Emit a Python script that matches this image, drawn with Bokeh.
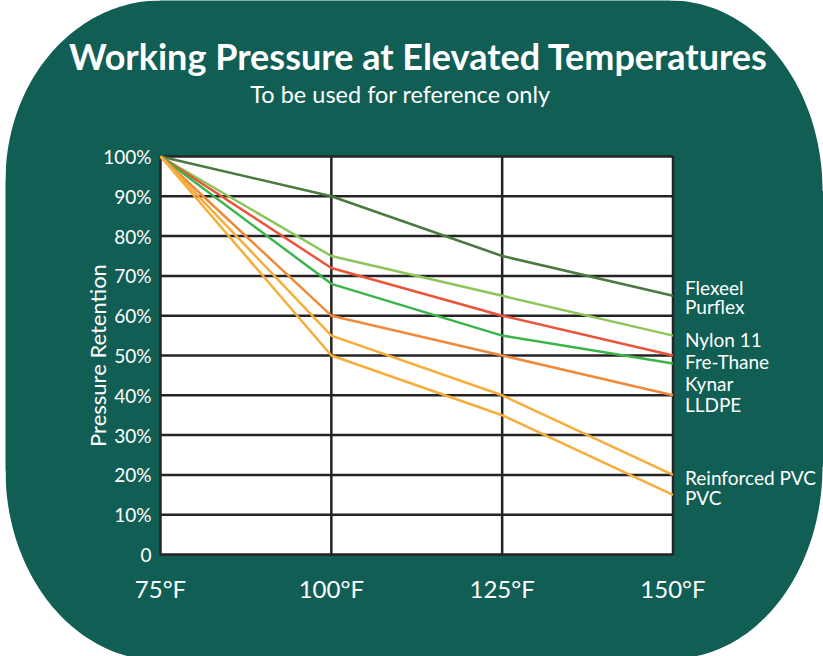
import numpy as np
from bokeh.plotting import figure
from bokeh.models import Range1d, FixedTicker, Label, LabelSet, ColumnDataSource
from bokeh.embed import file_html
from bokeh.resources import INLINE
from bokeh.core.properties import value

# ---------------- data ----------------
temps = [75, 100, 125, 150]
temp_labels = ["75°F", "100°F", "125°F", "150°F"]

flexeel_purflex = [100, 90, 75, 65]
nylon_11 = [100, 75, 65, 55]
fre_thane_red = [100, 72, 60, 50]
fre_thane_green = [100, 68, 55, 48]
kynar_lldpe = [100, 60, 50, 40]
reinforced_pvc = [100, 55, 40, 20]
pvc = [100, 50, 35, 15]

y_ticks = [0, 10, 20, 30, 40, 50, 60, 70, 80, 90, 100]
y_tick_labels = ["0", "10%", "20%", "30%", "40%", "50%", "60%", "70%", "80%", "90%", "100%"]

end_labels = ["Flexeel", "Purflex", "Nylon 11", "Fre-Thane", "Kynar", "LLDPE", "Reinforced PVC", "PVC"]
end_label_y = [67.2, 62.4, 54.0, 48.5, 42.9, 37.6, 19.4, 14.4]

# ---------------- layout / style ----------------
W, H = 823, 656
PL, PR, PT, PB = 160.0, 672.5, 156.0, 554.0   # plot area in page pixels
X0, X1 = temps[0], temps[-1]
Y0, Y1 = y_ticks[0], y_ticks[-1]
kx = (X1 - X0) / (PR - PL)
ky = (Y1 - Y0) / (PB - PT)

def px2x(X):
    return X0 + (X - PL) * kx

def px2y(Y):
    return Y0 + (PB - Y) * ky

BG = "#115e54"
GRID = "#262324"
FONT = "Lato"
series = [
    (flexeel_purflex, "#4a7a3d"),
    (nylon_11, "#8cc65a"),
    (fre_thane_red, "#e8553a"),
    (fre_thane_green, "#39b54a"),
    (kynar_lldpe, "#ef8a3c"),
    (reinforced_pvc, "#f6ad3a"),
    (pvc, "#f6ad3a"),
]

p = figure(width=W, height=H,
           x_range=Range1d(px2x(0), px2x(W)), y_range=Range1d(px2y(H), px2y(0)),
           output_backend="svg", toolbar_location=None,
           min_border_left=0, min_border_right=0, min_border_top=0, min_border_bottom=0,
           border_fill_color="white", background_fill_color=BG, outline_line_color=None)
p.grid.visible = False

# plot area
p.quad(left=[X0], right=[X1], bottom=[Y0], top=[Y1], fill_color="white", line_color=None)
gx = temps[1:-1]
gy = y_ticks[1:-1]
p.segment(x0=gx, x1=gx, y0=[Y0] * len(gx), y1=[Y1] * len(gx), line_color=GRID, line_width=2.5)
p.segment(x0=[X0] * len(gy), x1=[X1] * len(gy), y0=gy, y1=gy, line_color=GRID, line_width=2.5)
p.quad(left=[X0], right=[X1], bottom=[Y0], top=[Y1], fill_color=None,
       line_color=GRID, line_width=2.5)

# axes at the plot-area edges
p.xaxis.fixed_location = Y0
p.yaxis.fixed_location = X0
p.xaxis.bounds = (X0, X1)
p.yaxis.bounds = (Y0, Y1)
p.xaxis.ticker = FixedTicker(ticks=temps)
p.xaxis.major_label_overrides = {t: l for t, l in zip(temps, temp_labels)}
p.yaxis.ticker = FixedTicker(ticks=y_ticks)
p.yaxis.major_label_overrides = {t: l for t, l in zip(y_ticks, y_tick_labels)}
for ax in (p.xaxis, p.yaxis):
    ax.axis_line_color = None
    ax.major_tick_line_color = None
    ax.minor_tick_line_color = None
    ax.major_label_text_color = "white"
    ax.major_label_text_font = FONT
p.xaxis.major_label_text_font_size = "24px"
p.xaxis.major_label_standoff = 13
p.yaxis.major_label_text_font_size = "19px"
p.yaxis.major_label_standoff = 3
p.yaxis.axis_label = "Pressure Retention"
p.yaxis.axis_label_text_font = FONT
p.yaxis.axis_label_text_font_style = "normal"
p.yaxis.axis_label_text_font_size = "22px"
p.yaxis.axis_label_text_color = "white"
p.yaxis.axis_label_standoff = -11

# lines
for vals, col in series:
    p.line(temps, vals, line_color=col, line_width=2.5, line_join="round")

# end labels
src = ColumnDataSource(dict(x=[X1] * len(end_labels), y=end_label_y, text=end_labels))
p.add_layout(LabelSet(x="x", y="y", text="text", source=src, x_offset=12,
                      text_font=value(FONT), text_font_size="19px", text_color="white",
                      text_baseline="middle", text_align="left"))

# titles
p.add_layout(Label(x=px2x(418), y=px2y(55),
                   text="Working Pressure at Elevated Temperatures", text_font=FONT,
                   text_font_style="bold", text_font_size="36px", text_color="white",
                   text_align="center", text_baseline="alphabetic"))
p.add_layout(Label(x=px2x(400), y=px2y(93),
                   text="To be used for reference only", text_font=FONT,
                   text_font_size="23.5px", text_color="white",
                   text_align="center", text_baseline="alphabetic"))

# rounded corners of the green panel (white outside)
def corner(cx, cy, rx, ry, a0, a1, extra):
    th = np.radians(np.linspace(a0, a1, 60))
    X = list(cx + rx * np.cos(th)) + [e[0] for e in extra]
    Y = list(cy + ry * np.sin(th)) + [e[1] for e in extra]
    return [float(px2x(v)) for v in X], [float(px2y(v)) for v in Y]

corners = [
    corner(160, 180, 155, 180, 180, 270, [(160, -60), (-60, -60), (-60, 180)]),
    corner(670, 190, 152, 190, 270, 360, [(900, 190), (900, -60), (670, -60)]),
    corner(672, 466, 150, 192, 0, 90, [(672, 720), (900, 720), (900, 466)]),
    corner(160, 470, 155, 190, 90, 180, [(-60, 470), (-60, 720), (160, 720)]),
]
for xs, ys in corners:
    p.patch(xs, ys, fill_color="white", line_color=None, level="overlay")
# thin white strip at the far left
p.quad(left=[px2x(-60)], right=[px2x(5)], bottom=[px2y(720)], top=[px2y(-60)],
       fill_color="white", line_color=None, level="overlay")

open("out.html", "w").write(file_html(p, INLINE))
